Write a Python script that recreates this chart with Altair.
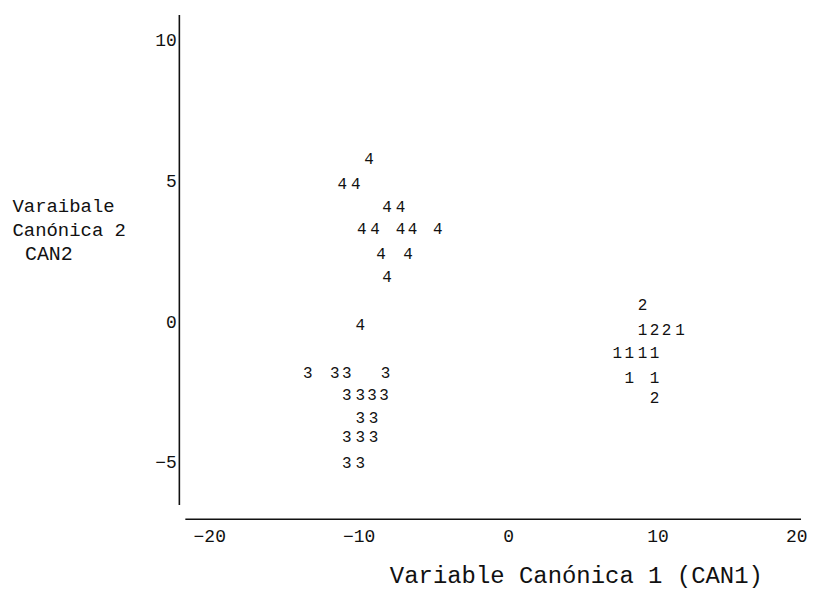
import altair as alt
import pandas as pd

# ---- data (CAN1, CAN2, group label) ----
# group 4
x4 = [-9.3, -11.1, -10.2, -8.1, -7.2, -9.8, -8.9, -7.2, -6.4, -4.7, -8.5, -6.7, -8.1, -9.9]
y4 = [5.8, 4.9, 4.9, 4.1, 4.1, 3.3, 3.3, 3.3, 3.3, 3.3, 2.4, 2.4, 1.6, -0.1]
# group 3
x3 = [-13.4, -11.6, -10.8, -8.2, -10.8, -9.9, -9.1, -8.3, -9.9, -9.0, -10.8, -9.9, -9.0, -10.8, -9.9]
y3 = [-1.8, -1.8, -1.8, -1.8, -2.6, -2.6, -2.6, -2.6, -3.4, -3.4, -4.1, -4.1, -4.1, -5.0, -5.0]
# groups 1 and 2
x12 = [9.0, 9.0, 9.8, 10.6, 11.5, 7.3, 8.1, 9.0, 9.8, 8.1, 9.8, 9.8]
y12 = [0.6, -0.3, -0.3, -0.3, -0.3, -1.1, -1.1, -1.1, -1.1, -2.0, -2.0, -2.7]
lab12 = ["2", "1", "2", "2", "1", "1", "1", "1", "1", "1", "1", "2"]

x_ticks = [-20, -10, 0, 10, 20]
y_ticks = [-5, 0, 5, 10]
x_domain = [-22.0, 20.0]
y_domain = [-7.0, 10.9]

# axis lines (drawn as separate strokes, like the printed plot)
axis_x1 = [-22.0, -21.6]
axis_x2 = [-22.0, 19.6]
axis_y1 = [-6.5, -7.0]
axis_y2 = [10.9, -7.0]

pts = pd.DataFrame({
    "CAN1": x4 + x3 + x12,
    "CAN2": y4 + y3 + y12,
    "grp": ["4"] * len(x4) + ["3"] * len(x3) + lab12,
})
axes_df = pd.DataFrame({"x1": axis_x1, "x2": axis_x2, "y1": axis_y1, "y2": axis_y2})

FONT = "Liberation Mono"
INK = "#111111"

xscale = alt.Scale(domain=x_domain, nice=False, zero=False)
yscale = alt.Scale(domain=y_domain, nice=False, zero=False)

xaxis = alt.Axis(
    values=x_ticks, domain=False, ticks=False, grid=False,
    labelFont=FONT, labelFontSize=18, labelColor=INK, labelPadding=8,
    title="Variable Canónica 1 (CAN1)", titleFont=FONT, titleFontSize=24,
    titleFontWeight="normal", titleColor=INK,
    titleX=398, titleY=57, titleAlign="center", titleBaseline="middle",
)
yaxis = alt.Axis(
    values=y_ticks, domain=False, ticks=False, grid=False,
    labelFont=FONT, labelFontSize=18, labelColor=INK, labelPadding=3,
    title=["Varaibale", "Canónica 2"], titleFont=FONT,
    titleFontSize=19, titleFontWeight="normal", titleColor=INK,
    titleAngle=0, titleAlign="left", titleBaseline="middle",
    titleLineHeight=24, titleX=-168, titleY=191,
)

points = alt.Chart(pts).mark_text(font=FONT, fontSize=16, color=INK).encode(
    x=alt.X("CAN1:Q", scale=xscale, axis=xaxis),
    y=alt.Y("CAN2:Q", scale=yscale, axis=yaxis),
    text="grp:N",
)

lines = alt.Chart(axes_df).mark_rule(color="#111111", strokeWidth=1.6).encode(
    x=alt.X("x1:Q", scale=xscale),
    x2="x2:Q",
    y=alt.Y("y1:Q", scale=yscale),
    y2="y2:Q",
)

chart = alt.layer(lines, points).properties(
    width=630, height=506,
    autosize=alt.AutoSizeParams(type="none"),
    padding={"left": 172, "top": 6, "right": 0, "bottom": 76},
    background="white",
    title=alt.TitleParams(
        "CAN2", anchor="start", frame="group", orient="top", offset=0,
        dx=-155, dy=261, baseline="middle", font=FONT, fontSize=20,
        fontWeight="normal", color=INK,
    ),
).configure_view(stroke=None)

chart.save("out.html", embed_options={"renderer": "svg", "actions": False})
